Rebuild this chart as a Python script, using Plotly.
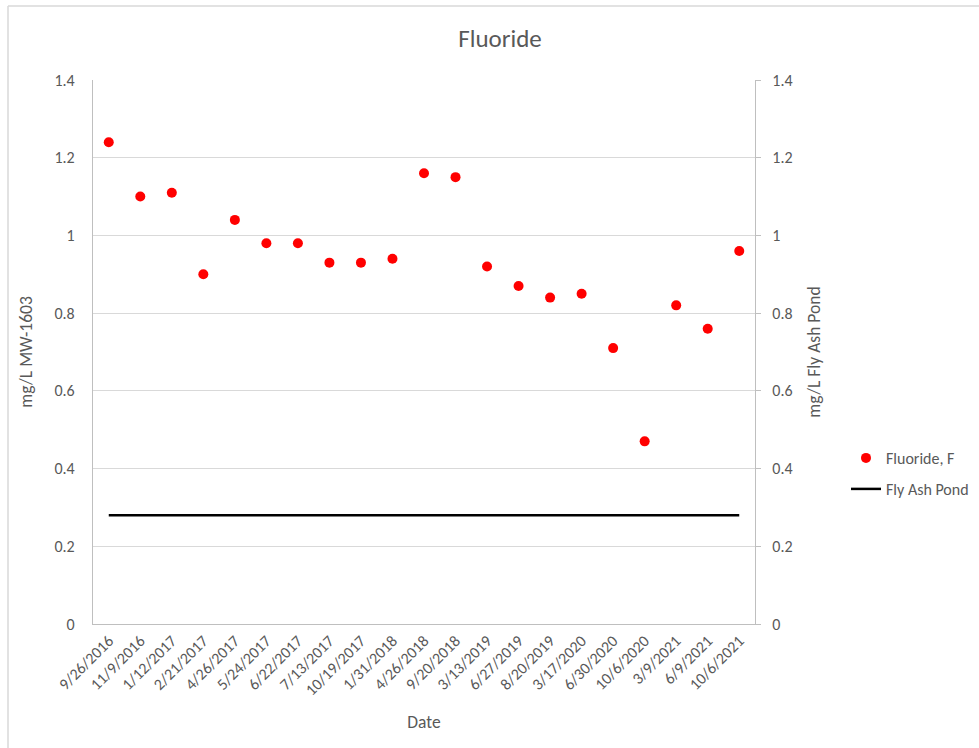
import plotly.graph_objects as go

# Sampling dates (category axis) and measured fluoride concentrations
dates = ["9/26/2016", "11/9/2016", "1/12/2017", "2/21/2017", "4/26/2017",
         "5/24/2017", "6/22/2017", "7/13/2017", "10/19/2017", "1/31/2018",
         "4/26/2018", "9/20/2018", "3/13/2019", "6/27/2019", "8/20/2019",
         "3/17/2020", "6/30/2020", "10/6/2020", "3/9/2021", "6/9/2021",
         "10/6/2021"]
fluoride_mw1603 = [1.24, 1.10, 1.11, 0.90, 1.04, 0.98, 0.98, 0.93, 0.93, 0.94,
                   1.16, 1.15, 0.92, 0.87, 0.84, 0.85, 0.71, 0.47, 0.82, 0.76,
                   0.96]
fly_ash_pond = [0.28, 0.28, 0.28, 0.28, 0.28, 0.28, 0.28, 0.28, 0.28, 0.28,
                0.28, 0.28, 0.28, 0.28, 0.28, 0.28, 0.28, 0.28, 0.28, 0.28,
                0.28]
y_ticks = [0, 0.2, 0.4, 0.6, 0.8, 1, 1.2, 1.4]

FONT = "Calibri, Carlito, Lato, sans-serif"
TXT = "#595959"
AXIS = "#bfbfbf"
GRID = "#d9d9d9"
TICK_SIZE = 16
AXTITLE_SIZE = 17.5
LEGEND_SIZE = 16

fig = go.Figure()
fig.add_trace(go.Scatter(
    x=dates, y=fluoride_mw1603, mode="markers", name="Fluoride, F",
    marker=dict(color="#ff0000", size=10), yaxis="y", legend="legend",
    showlegend=True,
))
fig.add_trace(go.Scatter(
    x=dates, y=fly_ash_pond, mode="lines", name="Fly Ash Pond",
    line=dict(color="#000000", width=2.5), yaxis="y2", legend="legend2",
    showlegend=True,
))

W, H = 979, 748
L, R, T, B = 93, 224, 80, 124
pw, ph = W - L - R, H - T - B


def px_x(x):
    return (x - L) / pw


def px_y(y):
    return (H - B - y) / ph


fig.update_layout(
    width=W, height=H, showlegend=True,
    margin=dict(l=L, r=R, t=T, b=B, autoexpand=False),
    paper_bgcolor="white", plot_bgcolor="white",
    font=dict(family=FONT, color=TXT, size=TICK_SIZE),
    title=dict(text="Fluoride", font=dict(size=25, color=TXT, family=FONT),
               x=500 / W, xref="container", xanchor="center",
               y=1 - 38 / H, yref="container", yanchor="middle"),
    xaxis=dict(
        type="category", range=[-0.5, len(dates) - 0.5],
        tickangle=-45, tickfont=dict(size=TICK_SIZE, color=TXT),
        showline=True, linecolor=AXIS, linewidth=1.3,
        showgrid=False, ticks="", automargin=False,
        title=dict(text="Date", font=dict(size=AXTITLE_SIZE, color=TXT), standoff=17),
    ),
    yaxis=dict(
        range=[0, 1.4], tickvals=y_ticks, ticktext=[f"{v:g}" for v in y_ticks],
        showline=True, linecolor=AXIS, linewidth=1.3,
        showgrid=True, gridcolor=GRID, gridwidth=1, zeroline=False,
        ticks="", ticklabelstandoff=14, automargin=False,
        tickfont=dict(size=TICK_SIZE, color=TXT),
        title=dict(text="mg/L MW-1603", font=dict(size=AXTITLE_SIZE, color=TXT), standoff=17),
    ),
    yaxis2=dict(
        range=[0, 1.4], tickvals=y_ticks, ticktext=[f"{v:g}" for v in y_ticks],
        overlaying="y", side="right",
        showline=True, linecolor=AXIS, linewidth=1.3,
        showgrid=False, zeroline=False,
        ticks="outside", ticklen=5, tickcolor=AXIS, ticklabelstandoff=8,
        automargin=False, tickfont=dict(size=TICK_SIZE, color=TXT),
        title=dict(text="mg/L Fly Ash Pond", font=dict(size=AXTITLE_SIZE, color=TXT), standoff=16),
    ),
    legend=dict(x=px_x(846), y=px_y(458), xanchor="left", yanchor="middle",
                bgcolor="rgba(0,0,0,0)", font=dict(size=LEGEND_SIZE, color=TXT)),
    legend2=dict(x=px_x(846), y=px_y(489), xanchor="left", yanchor="middle",
                 bgcolor="rgba(0,0,0,0)", font=dict(size=LEGEND_SIZE, color=TXT)),
    shapes=[
        dict(type="line", xref="paper", yref="paper",
             x0=px_x(8), x1=px_x(8), y0=px_y(6), y1=px_y(H + 5),
             line=dict(color=GRID, width=1.5)),
        dict(type="line", xref="paper", yref="paper",
             x0=px_x(8), x1=px_x(W + 5), y0=px_y(6), y1=px_y(6),
             line=dict(color=GRID, width=1.5)),
    ],
)

fig.write_html("out.html")
